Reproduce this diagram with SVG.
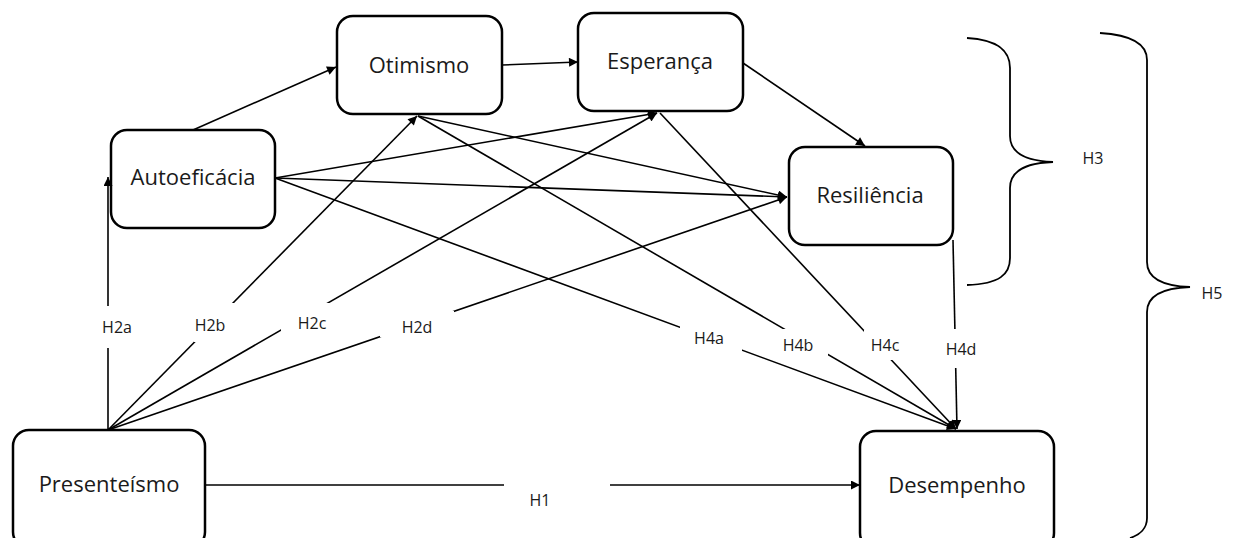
<svg xmlns="http://www.w3.org/2000/svg" width="1234" height="538" viewBox="0 0 1234 538">
<defs>
<style>
.node rect{fill:#fff;stroke:#000;stroke-width:2.5}
.node text{font-family:"Open Sans","Liberation Sans",sans-serif;font-size:22px;fill:#1a1a1a;text-anchor:middle}
.conn path{fill:none;stroke:#000;stroke-width:1.6}
.lbl rect{fill:#fff;stroke:none}
.lbl text{font-family:"Open Sans","Liberation Sans",sans-serif;font-size:16px;fill:#1a1a1a;text-anchor:middle}
.brace{fill:none;stroke:#000;stroke-width:1.8}
</style>
<marker id="arr" viewBox="0 0 10 10" refX="10" refY="5" markerWidth="11" markerHeight="9" markerUnits="userSpaceOnUse" orient="auto">
<path d="M0,0 L10,5 L0,10 Z" fill="#000"/>
</marker>
</defs>
<rect width="1234" height="538" fill="#fff"/>

<g id="presenteismo" class="node"><rect x="13" y="430" width="192" height="118" rx="16"/><text x="109" y="492">Presenteísmo</text></g>
<g id="autoeficacia" class="node"><rect x="111" y="130" width="164" height="98" rx="16"/><text x="193" y="185">Autoeficácia</text></g>
<g id="otimismo" class="node"><rect x="337" y="16" width="165" height="98" rx="16"/><text x="419" y="73">Otimismo</text></g>
<g id="esperanca" class="node"><rect x="578" y="13" width="165" height="98" rx="16"/><text x="660" y="69">Esperança</text></g>
<g id="resiliencia" class="node"><rect x="789" y="147" width="164" height="98" rx="16"/><text x="870" y="203">Resiliência</text></g>
<g id="desempenho" class="node"><rect x="860" y="431" width="194" height="118" rx="16"/><text x="957" y="493">Desempenho</text></g>

<g id="connectors" class="conn">
<path d="M108,430 L108,177" marker-end="url(#arr)"/>
<path d="M108,430 L417,116" marker-end="url(#arr)"/>
<path d="M108,430 L657,113" marker-end="url(#arr)"/>
<path d="M108,430 L787,197" marker-end="url(#arr)"/>
<path d="M205,485 L860,485" marker-end="url(#arr)"/>
<path d="M193,130 L336,67" marker-end="url(#arr)"/>
<path d="M502,65 L578,62" marker-end="url(#arr)"/>
<path d="M743,63 L865,146" marker-end="url(#arr)"/>
<path d="M275,178 L657,113" marker-end="url(#arr)"/>
<path d="M275,178 L787,197" marker-end="url(#arr)"/>
<path d="M275,178 L956,429" marker-end="url(#arr)"/>
<path d="M418,116 L787,197" marker-end="url(#arr)"/>
<path d="M418,116 L956,429" marker-end="url(#arr)"/>
<path d="M660,113 L956,429" marker-end="url(#arr)"/>
<path d="M953,240 L957,429" marker-end="url(#arr)"/>
</g>

<g id="labels" class="lbl">
<rect x="96" y="306" width="44" height="42"/><text x="117" y="333">H2a</text>
<rect x="194" y="303" width="43" height="39"/><text x="210" y="331">H2b</text>
<rect x="281" y="303" width="54" height="28"/><text x="312" y="329">H2c</text>
<rect x="380" y="311" width="74" height="26"/><text x="417" y="333">H2d</text>
<rect x="504" y="478" width="106" height="14"/><text x="540" y="506">H1</text>
<rect x="680" y="323" width="62" height="28"/><text x="709" y="344">H4a</text>
<rect x="778" y="329" width="50" height="27"/><text x="798" y="351">H4b</text>
<rect x="864" y="330" width="40" height="30"/><text x="885" y="351">H4c</text>
<rect x="944" y="329" width="36" height="39"/><text x="961" y="355">H4d</text>
<text x="1093" y="164">H3</text>
<text x="1212" y="299">H5</text>
</g>

<g id="brace-h3">
<path class="brace" d="M967,38 C1000,40 1010,52 1010,68 L1010,136 C1010,152 1025,161 1053,162 C1025,163 1010,172 1010,188 L1010,258 C1010,274 1000,284 967,285"/>
</g>
<g id="brace-h5">
<path class="brace" d="M1100,33 C1133,35 1147,45 1147,60 L1147,262 C1147,278 1162,286 1190,287 C1162,288 1147,296 1147,312 L1147,518 C1147,528 1140,535 1130,538"/>
</g>
</svg>
